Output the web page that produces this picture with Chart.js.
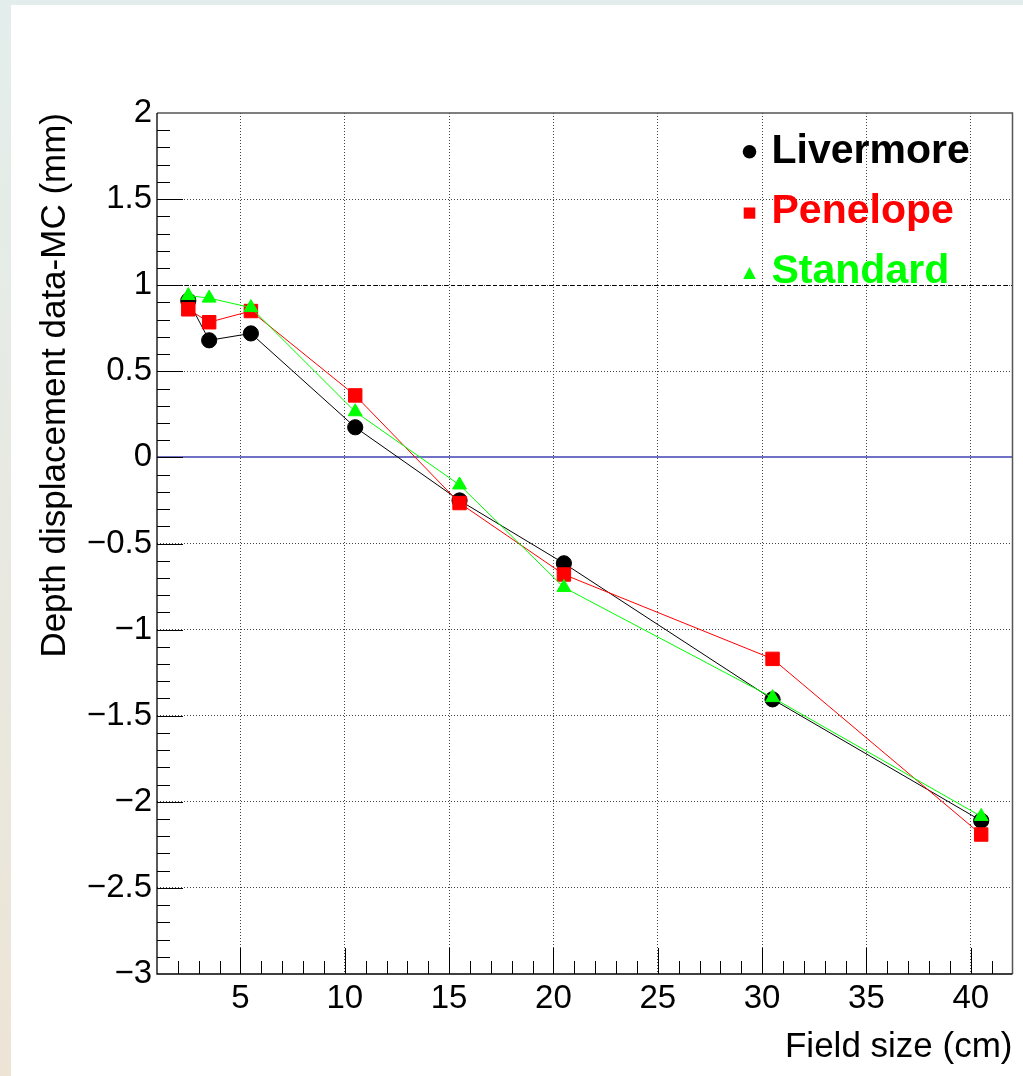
<!DOCTYPE html>
<html>
<head>
<meta charset="utf-8">
<script src="https://cdn.jsdelivr.net/npm/chart.js@4.4.0/dist/chart.umd.min.js"></script>
<style>
html,body{margin:0;padding:0;}
body{width:1023px;height:1076px;overflow:hidden;background:linear-gradient(to bottom,#e3eeec,#ede4d6);}
#wrap{position:absolute;left:0;top:0;width:1023px;height:1076px;}
</style>
</head>
<body>
<div id="wrap"><canvas id="myChart" width="1023" height="1076"></canvas></div>
<script>
// data
var fieldSize=[2.5,3.5,5.5,10.5,15.5,20.5,30.5,40.5];
var livermore=[0.91,0.68,0.72,0.175,-0.25,-0.615,-1.405,-2.11];
var penelope=[0.86,0.785,0.85,0.36,-0.265,-0.68,-1.17,-2.19];
var standard=[0.94,0.925,0.87,0.265,-0.16,-0.755,-1.395,-2.085];

var seriesNames=["Livermore","Penelope","Standard"];
var xTicks=[5,10,15,20,25,30,35,40];
var yTicks=[-3,-2.5,-2,-1.5,-1,-0.5,0,0.5,1,1.5,2];
var refLines=[1,0];

Chart.defaults.font.family="'Liberation Sans', Arial, Helvetica, sans-serif";
Chart.defaults.color="#000";

function pts(ys){
	return ys.map(function(v,i){ return {x:fieldSize[i],y:v}; });
}
function fmt(v){
	return v<0 ? "\u2212"+Math.abs(v) : String(v);
}

var page={
	id:"page",
	beforeDraw:function(chart){
		var ctx=chart.ctx;
		ctx.save();
		ctx.fillStyle="#fff";
		ctx.fillRect(11,5,1012,1071);
		ctx.restore();
	}
};

// y=1 dashed and y=0 blue lines, under the graphs
var refs={
	id:"refs",
	beforeDatasetsDraw:function(chart){
		var ctx=chart.ctx, a=chart.chartArea, y=chart.scales.y;
		ctx.save();
		var py=Math.round(y.getPixelForValue(refLines[0]))+0.5;
		ctx.strokeStyle="#000";ctx.lineWidth=1;ctx.setLineDash([4,3]);
		ctx.beginPath();ctx.moveTo(a.left,py);ctx.lineTo(a.right,py);ctx.stroke();
		py=Math.round(y.getPixelForValue(refLines[1]));
		ctx.setLineDash([]);ctx.strokeStyle="#4040b0";ctx.lineWidth=1.6;
		ctx.beginPath();ctx.moveTo(a.left,py);ctx.lineTo(a.right,py);ctx.stroke();
		ctx.restore();
	}
};

// ROOT style frame with inward ticks
var frame={
	id:"frame",
	afterDraw:function(chart){
		var ctx=chart.ctx, a=chart.chartArea, x=chart.scales.x, y=chart.scales.y;
		ctx.save();
		ctx.strokeStyle="#555";ctx.lineWidth=1.5;
		ctx.beginPath();
		ctx.moveTo(a.left,a.top);ctx.lineTo(a.right,a.top);ctx.lineTo(a.right,a.bottom);
		ctx.stroke();
		ctx.strokeStyle="#000";ctx.lineWidth=1.3;
		ctx.beginPath();
		ctx.moveTo(a.left,a.top);ctx.lineTo(a.left,a.bottom);ctx.lineTo(a.right,a.bottom);
		ctx.stroke();
		ctx.lineWidth=1;
		ctx.beginPath();
		for(var i=2;i<=41;i++){
			var px=Math.round(x.getPixelForValue(i))+0.5;
			var len=(i%5===0)?26:13;
			ctx.moveTo(px,a.bottom);ctx.lineTo(px,a.bottom-len);
		}
		for(var k=-29;k<=19;k++){
			var py=Math.round(y.getPixelForValue(k/10))+0.5;
			var l2=(k%5===0)?26:13;
			ctx.moveTo(a.left,py);ctx.lineTo(a.left+l2,py);
		}
		ctx.stroke();
		ctx.restore();
	}
};

// legend in the top right corner
var legendBox={
	id:"legendBox",
	afterDraw:function(chart){
		var ctx=chart.ctx;
		var ds=chart.data.datasets;
		var base=[162.7,223,283];
		ctx.save();
		ctx.font="bold 41px 'Liberation Sans', Arial, sans-serif";
		ctx.textBaseline="alphabetic";
		for(var i=0;i<ds.length;i++){
			var c=ds[i].borderColor, cy=base[i]-11, cx=749.5;
			ctx.fillStyle=c;
			ctx.beginPath();
			if(ds[i].pointStyle==="circle"){ ctx.arc(cx,cy,6.8,0,Math.PI*2); }
			else if(ds[i].pointStyle==="rect"){ ctx.rect(cx-5.8,cy-4.5,11.6,11.2); }
			else { ctx.moveTo(cx,cy-5);ctx.lineTo(cx+6.3,cy+7);ctx.lineTo(cx-6.3,cy+7);ctx.closePath(); }
			ctx.fill();
			ctx.fillText(ds[i].label,771.5,base[i]);
		}
		ctx.restore();
	}
};

var myChart=document.getElementById("myChart").getContext("2d");

var chart=new Chart(myChart,{
	type:"line",
	data:{
		datasets:[
		{
			label:seriesNames[0],
			data:pts(livermore),
			borderColor:"#000000",
			backgroundColor:"#000000",
			pointStyle:"circle",
			pointRadius:7.6,
			borderWidth:1,
			order:2
		},
		{
			label:seriesNames[1],
			data:pts(penelope),
			borderColor:"#ff0000",
			backgroundColor:"#ff0000",
			pointStyle:"rect",
			pointRadius:9.5,
			borderWidth:1,
			order:1
		},
		{
			label:seriesNames[2],
			data:pts(standard),
			borderColor:"#00ff00",
			backgroundColor:"#00ff00",
			pointStyle:"triangle",
			pointRadius:8,
			borderWidth:1,
			order:0
		}
		]
	},
	options:{
		responsive:false,
		animation:false,
		devicePixelRatio:1,
		layout:{padding:{top:113,right:8,left:0,bottom:0}},
		elements:{line:{tension:0,fill:false},point:{borderWidth:0,hoverRadius:8}},
		plugins:{legend:{display:false},tooltip:{enabled:false}},
		scales:{
			x:{
				type:"linear",min:1,max:42,
				afterBuildTicks:function(s){ s.ticks=xTicks.map(function(v){return {value:v};}); },
				afterFit:function(s){ s.height=102; },
				grid:{color:"#444",lineWidth:1,drawTicks:false},
				border:{display:false,dash:[1,2]},
				ticks:{font:{size:33},padding:5,maxRotation:0,callback:function(v){return fmt(v);}},
				title:{display:true,text:"Field size (cm)",align:"end",font:{size:35},padding:{top:0,bottom:8}}
			},
			y:{
				type:"linear",min:-3,max:2,
				afterBuildTicks:function(s){ s.ticks=yTicks.map(function(v){return {value:v};}); },
				afterFit:function(s){ s.width=157; },
				grid:{color:function(c){ return (c.tick&&(c.tick.value===2||c.tick.value===-3||c.tick.value===0))?"rgba(0,0,0,0)":"#444"; },lineWidth:1,drawTicks:false},
				border:{display:false,dash:[1,2]},
				ticks:{font:{size:33},padding:5,callback:function(v){return fmt(v);}},
				title:{display:true,text:"Depth displacement data-MC (mm)",align:"end",font:{size:35},padding:{top:34,bottom:0}}
			}
		}
	},
	plugins:[page,refs,frame,legendBox]
});
</script>
</body>
</html>
